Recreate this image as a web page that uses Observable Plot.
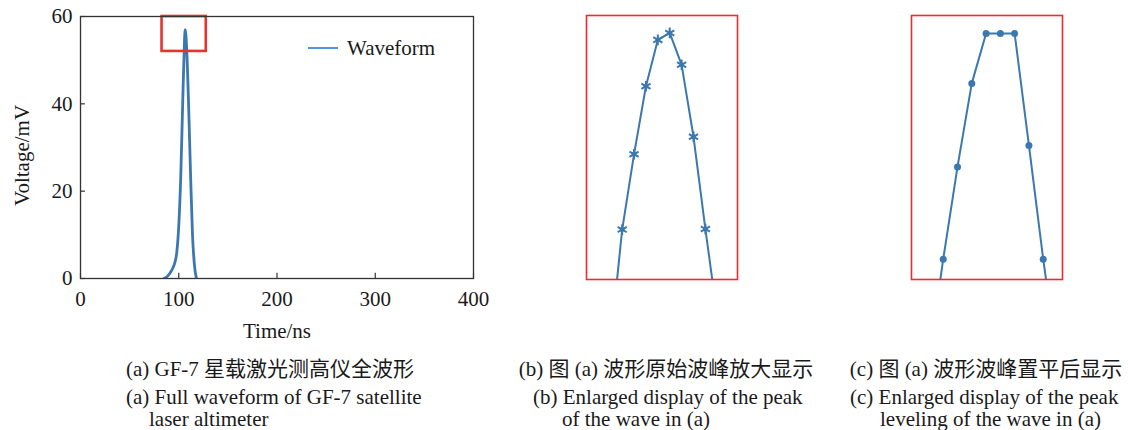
<!DOCTYPE html>
<html><head><meta charset="utf-8">
<script src="https://cdn.jsdelivr.net/npm/d3@7"></script>
<script src="https://cdn.jsdelivr.net/npm/@observablehq/plot@0.6"></script>
<style>
body{margin:0;background:#fff;}
#root{position:relative;width:1128px;height:430px;overflow:hidden;font-family:"Liberation Serif","Times New Roman",serif;color:#1a1a1a;}
.pane{position:absolute;}
.cap{position:absolute;font-size:21px;line-height:22px;white-space:nowrap;}
.cjk{font-family:"Noto Sans CJK SC","Noto Sans CJK JP",sans-serif;font-size:21px;line-height:22px;}
.ctr{transform:translateX(-50%);}
</style></head><body><div id="root"></div>
<script>
// Panel (a): full waveform (time ns, voltage mV)
const waveTime = [85, 88, 91, 94, 96, 98, 100, 102, 104, 105.5, 106.5, 108, 110, 112, 114, 116, 118];
const waveVolt = [0, 0.4, 1.2, 2.4, 3.6, 6, 12, 23, 40, 52, 57, 53, 40, 24, 10, 3, 0];
const xTicks = [0, 100, 200, 300, 400];
const yTicks = [0, 20, 40, 60];
const zoomBox = [83, 128, 52, 60]; // x1, x2, y1, y2 (ns, mV)

// Panel (b): original peak samples (sample index, mV)
const rawIndex = [-1, 0, 1, 2, 3, 4, 5, 6, 7, 8];
const rawVolt = [2.6, 22.6, 35.6, 47.3, 55.3, 56.5, 51.0, 38.6, 22.7, 7.6];
// Panel (c): levelled peak samples
const levIndex = [-1, 0, 1, 2, 3, 4, 5, 6, 7, 8];
const levVolt = [0, 17.5, 33.4, 47.8, 56.4, 56.4, 56.4, 37.1, 17.5, 0];

const captions = [
  {cx: 270, l2: 126, l3: 149, pre: "(a) GF-7 ", cjk: "星载激光测高仪全波形", line2: "(a) Full waveform of GF-7 satellite", line3: "laser altimeter"},
  {cx: 666, l2: 533, l3: 562, pre: "(b) ", cjk: "图", mid: " (a) ", cjk2: "波形原始波峰放大显示", line2: "(b) Enlarged display of the peak", line3: "of the wave in (a)"},
  {cx: 986, l2: 850, l3: 880, pre: "(c) ", cjk: "图", mid: " (a) ", cjk2: "波形波峰置平后显示", line2: "(c) Enlarged display of the peak", line3: "leveling of the wave in (a)"}
];

const blue = "#3b78b0";
const root = document.getElementById("root");
const font = '"Liberation Serif","Times New Roman",serif';

const wave = waveTime.map((t, i) => ({t, v: waveVolt[i]}));
const box = [{x1: zoomBox[0], x2: zoomBox[1], y1: zoomBox[2], y2: zoomBox[3]}];

const pa = Plot.plot({
  width: 490, height: 345,
  marginLeft: 80, marginRight: 17, marginTop: 16, marginBottom: 67,
  style: {fontFamily: font, fontSize: "21px", color: "#1a1a1a", background: "transparent", overflow: "visible"},
  x: {domain: [0, 400]},
  y: {domain: [0, 60]},
  marks: [
    Plot.axisX(xTicks, {tickSize: 0, tickPadding: 13, fontSize: 21, label: null}),
    Plot.axisY(yTicks, {tickSize: 0, tickPadding: 8, fontSize: 21, label: null}),
    Plot.text(["Time/ns"], {frameAnchor: "bottom", lineAnchor: "middle", textAnchor: "middle", dy: 53, fontSize: 21, fill: "#1a1a1a"}),
    Plot.text(["Voltage/mV"], {frameAnchor: "left", lineAnchor: "middle", textAnchor: "middle", rotate: -90, dx: -58, dy: 8, fontSize: 21, fill: "#1a1a1a"}),
    Plot.ruleX(xTicks, {x: d => d, y1: 0, y2: 1.2, stroke: "#333", strokeWidth: 1.2}),
    Plot.ruleY(yTicks, {y: d => d, x1: 0, x2: 5, stroke: "#333", strokeWidth: 1.2}),
    Plot.line(wave, {x: "t", y: "v", curve: "monotone-x", stroke: blue, strokeWidth: 2.8, clip: true}),
    Plot.rect(box, {x1: "x1", x2: "x2", y1: "y1", y2: "y2", fill: "none", stroke: "#e8322d", strokeWidth: 2.6}),
    Plot.frame({stroke: "#333", strokeWidth: 1.3})
  ]
});
pa.classList.add("pane");
pa.style.left = "0px"; pa.style.top = "0px";
root.appendChild(pa);

function zoomPanel(idx, volt, xDomain, dotMarks, left) {
  const data = idx.map((i, k) => ({i, v: volt[k]}));
  const p = Plot.plot({
    width: 153, height: 266, margin: 1,
    style: {background: "transparent", overflow: "visible"},
    x: {domain: xDomain, axis: null},
    y: {domain: [14, 59.5], axis: null},
    marks: [
      Plot.line(data, {x: "i", y: "v", stroke: blue, strokeWidth: 2, clip: true}),
      ...dotMarks(data),
      Plot.frame({stroke: "#ee2b2b", strokeWidth: 1.6})
    ]
  });
  p.classList.add("pane");
  p.style.left = left + "px"; p.style.top = "14px";
  root.appendChild(p);
}

zoomPanel(rawIndex, rawVolt, [-3, 9.7], data => [
  Plot.dot(data, {x: "i", y: "v", symbol: "asterisk", r: 5, stroke: blue, strokeWidth: 2, clip: true}),
  Plot.dot(data, {x: "i", y: "v", r: 2.4, fill: blue, clip: true})
], 585);

zoomPanel(levIndex, levVolt, [-2.22, 8.35], data => [
  Plot.dot(data, {x: "i", y: "v", r: 3.5, fill: blue, clip: true})
], 910);

// legend
const leg = document.createElement("div");
leg.className = "pane";
leg.style.left = "308px"; leg.style.top = "36px";
leg.innerHTML = '<svg width="31" height="24" style="vertical-align:middle"><line x1="0" y1="12" x2="30" y2="12" stroke="#3f86e0" stroke-width="1.8"/></svg>' +
  '<span style="font-size:21px;position:absolute;left:39px;top:-1px;line-height:26px">Waveform</span>';
root.appendChild(leg);

// captions
for (const c of captions) {
  const l1 = document.createElement("div");
  l1.className = "cap ctr";
  l1.style.left = c.cx + "px"; l1.style.top = "356px";
  let h = c.pre + '<span class="cjk">' + c.cjk + '</span>';
  if (c.mid) h += c.mid + '<span class="cjk">' + c.cjk2 + '</span>';
  l1.innerHTML = h;
  root.appendChild(l1);
  const l2 = document.createElement("div");
  l2.className = "cap"; l2.style.left = c.l2 + "px"; l2.style.top = "386px";
  l2.textContent = c.line2; root.appendChild(l2);
  const l3 = document.createElement("div");
  l3.className = "cap"; l3.style.left = c.l3 + "px"; l3.style.top = "408px";
  l3.textContent = c.line3; root.appendChild(l3);
}
</script></body></html>
